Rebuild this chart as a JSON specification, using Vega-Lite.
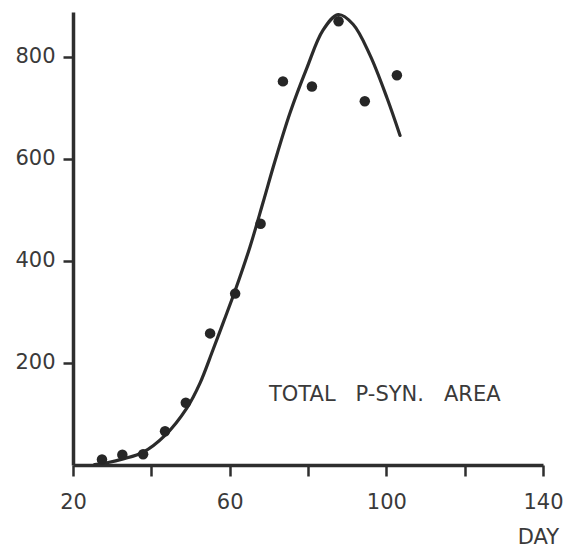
{
  "$schema": "https://vega.github.io/schema/vega-lite/v6.json",
  "width": 470,
  "height": 453,
  "autosize": "none",
  "padding": {"left": 73, "top": 12, "right": 34, "bottom": 86},
  "background": "white",
  "config": {
    "view": {"stroke": null},
    "font": "DejaVu Sans",
    "axis": {
      "grid": false,
      "domainColor": "#2e2e2e",
      "domainWidth": 3.5,
      "tickColor": "#2e2e2e",
      "tickWidth": 2.5,
      "labelFont": "DejaVu Sans",
      "labelFontSize": 21,
      "labelColor": "#3a3a3a",
      "titleFont": "DejaVu Sans",
      "titleFontSize": 21,
      "titleFontWeight": "normal",
      "titleColor": "#3a3a3a"
    }
  },
  "datasets": {
    "points": [
      {"day": 27.4, "area": 11},
      {"day": 32.6, "area": 20},
      {"day": 37.9, "area": 21},
      {"day": 43.5, "area": 66},
      {"day": 48.8, "area": 122},
      {"day": 55.0, "area": 258},
      {"day": 61.4, "area": 336},
      {"day": 67.9, "area": 473},
      {"day": 73.6, "area": 752},
      {"day": 81.0, "area": 742},
      {"day": 87.8, "area": 870},
      {"day": 94.5, "area": 713},
      {"day": 102.7, "area": 764}
    ],
    "curve": [
      {"day": 25.5, "area": 1},
      {"day": 29, "area": 5},
      {"day": 32.8, "area": 12},
      {"day": 37.9, "area": 25},
      {"day": 43.5, "area": 58},
      {"day": 49.1, "area": 112},
      {"day": 52.4, "area": 160},
      {"day": 55.7, "area": 225},
      {"day": 58.5, "area": 282},
      {"day": 61.4, "area": 342},
      {"day": 65.2, "area": 428},
      {"day": 68.5, "area": 514},
      {"day": 71.5, "area": 594},
      {"day": 75.4, "area": 690},
      {"day": 79.7, "area": 778},
      {"day": 83.8, "area": 852},
      {"day": 87.7, "area": 883},
      {"day": 91.5, "area": 864},
      {"day": 95.8, "area": 804},
      {"day": 100.2, "area": 719},
      {"day": 103.5, "area": 646}
    ],
    "label": [
      {"day": 99.6, "area": 138, "text": "TOTAL\u00a0\u00a0\u00a0P-SYN.\u00a0\u00a0\u00a0AREA"}
    ]
  },
  "layer": [
    {
      "data": {"name": "curve"},
      "mark": {"type": "line", "color": "#2b2b2b", "strokeWidth": 3.2, "interpolate": "catmull-rom", "strokeCap": "round"},
      "encoding": {
        "x": {
          "field": "day", "type": "quantitative",
          "scale": {"domain": [20, 140], "nice": false, "zero": false},
          "axis": {
            "values": [20, 40, 60, 80, 100, 120, 140],
            "labelExpr": "datum.value % 40 == 20 ? datum.label : ''",
            "tickSize": 11,
            "labelPadding": 15,
            "labelFlush": false,
            "title": "DAY",
            "titleX": 465,
            "titleY": 72,
            "titleAlign": "center",
            "titleBaseline": "middle",
            "titleAnchor": null
          }
        },
        "y": {
          "field": "area", "type": "quantitative",
          "scale": {"domain": [0, 888], "nice": false},
          "axis": {
            "values": [200, 400, 600, 800],
            "tickSize": 10,
            "labelPadding": 8,
            "title": null
          }
        }
      }
    },
    {
      "data": {"name": "points"},
      "mark": {"type": "circle", "color": "#262626", "opacity": 1, "size": 110},
      "encoding": {
        "x": {"field": "day", "type": "quantitative"},
        "y": {"field": "area", "type": "quantitative"}
      }
    },
    {
      "data": {"name": "label"},
      "mark": {"type": "text", "font": "DejaVu Sans", "fontSize": 21, "color": "#3a3a3a", "align": "center", "baseline": "middle"},
      "encoding": {
        "x": {"field": "day", "type": "quantitative"},
        "y": {"field": "area", "type": "quantitative"},
        "text": {"field": "text"}
      }
    }
  ]
}
